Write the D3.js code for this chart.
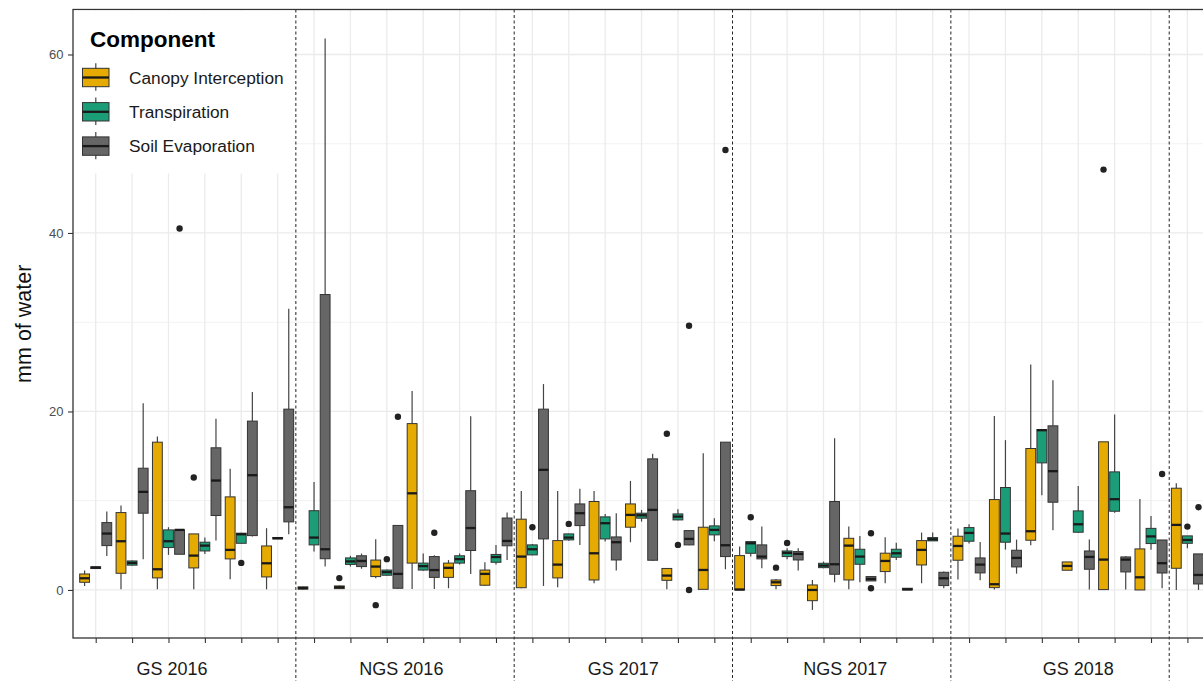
<!DOCTYPE html>
<html>
<head>
<meta charset="utf-8">
<script src="https://cdn.jsdelivr.net/npm/d3@7"></script>
<style>
  html, body { margin: 0; padding: 0; background: #fff; }
  svg { display: block; font-family: "Liberation Sans", Arial, Helvetica, sans-serif; }
</style>
</head>
<body>
<svg id="chart" width="1203" height="681"></svg>
<script>
// ---- data ---------------------------------------------------------------
const seasons = ["GS 2016", "NGS 2016", "GS 2017", "NGS 2017", "GS 2018"];
const monthCount = 31;               // six months per season, plus the first month of the next one
const components = ["Canopy Interception", "Transpiration", "Soil Evaporation"];
const componentColors = ["#E6AB02", "#1B9E77", "#666666"];

// box statistics per month: [lower whisker, Q1, median, Q3, upper whisker]  (mm)
const canopyStats = [
  [0.45, 0.86, 1.31, 1.79, 2.17], [0.07, 1.87, 5.46, 8.67, 9.46], [0.07, 1.35, 2.32, 16.56, 17.2],
  [0.07, 2.47, 3.85, 6.28, 6.28], [1.2, 3.48, 4.49, 10.43, 13.57], [0.07, 1.46, 2.99, 4.93, 6.92],
  [0.05, 0.1, 0.2, 0.35, 0.4], [0.1, 0.15, 0.3, 0.45, 0.5], [1.3, 1.5, 2.62, 3.35, 5.68],
  [0.1, 3.01, 10.83, 18.64, 22.28], [0.19, 1.41, 2.48, 3.01, 3.35], [0.44, 0.53, 1.8, 2.23, 3.1],
  [0.19, 0.25, 3.74, 7.93, 11.1], [0.3, 1.35, 2.84, 5.53, 11.1], [0.75, 1.12, 4.11, 9.91, 11.1],
  [5.35, 7.03, 8.41, 9.64, 12.22], [0.07, 1.08, 1.61, 2.41, 2.41], [0.07, 0.07, 2.24, 7.03, 15.33],
  [0, 0, 0.05, 3.85, 4.86], [0.07, 0.49, 0.86, 1.12, 1.23], [-2.24, -1.2, 0, 0.56, 1.12],
  [0.07, 1.12, 4.97, 5.79, 7.1], [0.75, 2.06, 3.25, 4.12, 5.9], [0.75, 2.8, 4.49, 5.53, 6.43],
  [1.16, 3.33, 4.93, 6.02, 6.88], [0.04, 0.26, 0.64, 10.13, 19.48], [5.01, 5.57, 6.58, 15.85, 25.27],
  [2.21, 2.21, 2.69, 3.14, 3.14], [0.04, 0.04, 3.4, 16.6, 16.6], [0, 0, 1.42, 4.6, 10.2],
  [0, 2.43, 7.29, 11.4, 11.97]
];
const transpirationStats = [
  [2.35, 2.4, 2.5, 2.6, 2.65], [2.7, 2.78, 3.03, 3.25, 3.3], [3.93, 4.75, 5.46, 6.73, 7.03],
  [4.04, 4.37, 4.97, 5.35, 5.87], [5.2, 5.23, 6.24, 6.36, 6.4], [5.7, 5.72, 5.8, 5.88, 5.9],
  [4.32, 5.05, 5.87, 8.88, 12.09], [2.62, 2.86, 3.2, 3.59, 3.83], [1.6, 1.65, 1.99, 2.23, 2.3],
  [2.14, 2.23, 2.67, 3.01, 4.08], [2.86, 3.01, 3.45, 3.83, 4.08], [2.86, 3.1, 3.69, 3.98, 5.05],
  [3.9, 3.93, 4.56, 5.05, 5.15], [5.5, 5.61, 5.87, 6.28, 6.3], [5.42, 5.72, 7.48, 8.19, 8.52],
  [7.66, 8.04, 8.37, 8.6, 8.97], [7.8, 7.85, 8.22, 8.52, 9.05], [5.46, 6.17, 6.73, 7.18, 8.04],
  [3.74, 4.11, 5.23, 5.42, 5.42], [3.44, 3.74, 4.15, 4.37, 4.67], [2.43, 2.5, 2.73, 2.99, 3.18],
  [0.86, 2.88, 3.74, 4.56, 6.06], [3.36, 3.67, 4.11, 4.56, 5.3], [5.5, 5.5, 5.68, 5.87, 6.43],
  [5.2, 5.46, 6.39, 6.99, 7.36], [4.52, 5.35, 6.32, 11.48, 16.79], [10.62, 14.24, 17.9, 17.98, 17.98],
  [6.39, 6.47, 7.36, 8.86, 11.66], [8.64, 8.82, 10.17, 13.23, 19.66], [4.5, 5.2, 6.0, 6.9, 8.3],
  [4.67, 5.23, 5.6, 6.06, 6.06]
];
const soilStats = [
  [3.81, 4.97, 6.32, 7.55, 8.79], [3.44, 8.6, 10.99, 13.64, 20.93], [4.0, 4.0, 6.73, 6.73, 6.73],
  [5.53, 8.34, 12.26, 15.93, 19.18], [5.98, 6.09, 12.86, 18.92, 22.17], [6.24, 7.63, 9.27, 20.26, 31.5],
  [2.62, 3.5, 4.56, 33.1, 61.8], [2.38, 2.62, 3.25, 3.83, 4.08], [0.1, 0.19, 1.8, 7.23, 7.23],
  [0.1, 1.41, 2.23, 3.74, 3.9], [1.8, 4.42, 6.94, 11.12, 19.47], [3.35, 4.95, 5.49, 8.06, 8.69],
  [0.45, 5.72, 13.46, 20.26, 23.07], [5.05, 7.21, 8.6, 9.64, 11.33], [2.17, 3.36, 5.35, 5.94, 8.6],
  [3.25, 3.33, 8.97, 14.69, 15.25], [5.0, 5.05, 5.72, 6.65, 6.7], [2.32, 3.74, 5.01, 16.56, 16.56],
  [2.43, 3.48, 3.74, 5.05, 7.1], [2.17, 3.36, 4.04, 4.3, 4.67], [0.86, 1.76, 2.88, 9.91, 17.0],
  [1.0, 1.01, 1.23, 1.5, 1.55], [0, 0, 0.07, 0.19, 0.19], [0.19, 0.49, 1.31, 1.98, 2.06],
  [1.08, 1.91, 2.84, 3.59, 5.38], [1.83, 2.58, 3.59, 4.45, 5.64], [6.69, 9.83, 13.31, 18.39, 23.51],
  [0.04, 2.32, 3.7, 4.37, 5.64], [0.04, 2.02, 3.4, 3.7, 3.78], [0.2, 1.9, 3.0, 5.6, 5.6],
  [0, 0.67, 1.68, 4.04, 4.04]
];

// outlying points: [month index, component index, value]
const outliers = [
  [2, 2, 40.5], [3, 0, 12.6], [4, 1, 3.03],
  [7, 0, 1.33], [8, 0, -1.7], [8, 1, 3.45], [8, 2, 19.4], [9, 2, 6.41],
  [12, 1, 7.03], [13, 1, 7.4], [16, 0, 17.5], [16, 1, 5.05], [16, 2, 29.6], [16, 2, 0], [17, 2, 49.3],
  [18, 1, 8.15], [19, 0, 2.5], [19, 1, 5.27], [21, 2, 6.36], [21, 2, 0.19],
  [28, 0, 47.1], [29, 2, 13.0], [30, 1, 7.1], [30, 2, 9.27]
];

const yTicks = [0, 20, 40, 60];
const yMinorTicks = [10, 30, 50];

// ---- layout -------------------------------------------------------------
const W = 1203, H = 681;
const panel = { left: 73, top: 9.5, right: 1240, bottom: 638 };
const seasonLabelAt = [2.1, 8.4, 14.5, 20.6, 27.0];   // label centres, in month units
const monthsPerSeason = 6;

const svg = d3.select("#chart");

const x = d3.scaleLinear().domain([0, 30]).range([95.7, 95.7 + 30 * 36.39]);
const step = x(1) - x(0);
const dodge = 0.305 * step;
const boxW = 0.27 * step;
const y = d3.scaleLinear().domain([-5.383, 65.04]).range([panel.bottom, panel.top]);

// panel background
svg.append("rect")
  .attr("x", panel.left).attr("y", panel.top)
  .attr("width", panel.right - panel.left).attr("height", panel.bottom - panel.top)
  .attr("fill", "#fff");

const grid = svg.append("g");
grid.selectAll("line.minor").data(yMinorTicks).join("line")
  .attr("class", "minor")
  .attr("x1", panel.left).attr("x2", panel.right)
  .attr("y1", d => y(d)).attr("y2", d => y(d))
  .attr("stroke", "#F2F2F2").attr("stroke-width", 1);
grid.selectAll("line.majorY").data(yTicks).join("line")
  .attr("class", "majorY")
  .attr("x1", panel.left).attr("x2", panel.right)
  .attr("y1", d => y(d)).attr("y2", d => y(d))
  .attr("stroke", "#EBEBEB").attr("stroke-width", 1.3);
grid.selectAll("line.majorX").data(d3.range(monthCount)).join("line")
  .attr("class", "majorX")
  .attr("x1", d => x(d)).attr("x2", d => x(d))
  .attr("y1", panel.top).attr("y2", panel.bottom)
  .attr("stroke", "#EBEBEB").attr("stroke-width", 1.3);

// dashed separators between seasons
const separators = d3.range(1, Math.ceil(monthCount / monthsPerSeason)).map(s => s * monthsPerSeason - 0.5);
svg.append("g").selectAll("line").data(separators).join("line")
  .attr("x1", d => x(d)).attr("x2", d => x(d))
  .attr("y1", panel.top).attr("y2", H)
  .attr("stroke", "#222").attr("stroke-width", 1)
  .attr("stroke-dasharray", "3,2.5");

// boxes
const statsByComponent = [canopyStats, transpirationStats, soilStats];
const boxes = [];
statsByComponent.forEach((arr, c) => arr.forEach((s, m) => boxes.push({
  m, c, lo: s[0], q1: s[1], med: s[2], q3: s[3], hi: s[4]
})));
const cx = d => x(d.m) + (d.c - 1) * dodge;

const gBox = svg.append("g");
const bg = gBox.selectAll("g").data(boxes).join("g");
bg.append("line")
  .attr("x1", cx).attr("x2", cx)
  .attr("y1", d => y(d.hi)).attr("y2", d => y(d.q3))
  .attr("stroke", "#444").attr("stroke-width", 1.2);
bg.append("line")
  .attr("x1", cx).attr("x2", cx)
  .attr("y1", d => y(d.q1)).attr("y2", d => y(d.lo))
  .attr("stroke", "#444").attr("stroke-width", 1.2);
bg.append("rect")
  .attr("x", d => cx(d) - boxW / 2)
  .attr("y", d => y(d.q3))
  .attr("width", boxW)
  .attr("height", d => Math.max(1, y(d.q1) - y(d.q3)))
  .attr("fill", d => componentColors[d.c])
  .attr("stroke", "#333").attr("stroke-width", 1);
bg.append("line")
  .attr("x1", d => cx(d) - boxW / 2).attr("x2", d => cx(d) + boxW / 2)
  .attr("y1", d => y(d.med)).attr("y2", d => y(d.med))
  .attr("stroke", "#1a1a1a").attr("stroke-width", 2.3);

// outlying points
svg.append("g").selectAll("circle").data(outliers).join("circle")
  .attr("cx", d => x(d[0]) + (d[1] - 1) * dodge)
  .attr("cy", d => y(d[2]))
  .attr("r", 3.2)
  .attr("fill", "#222");

// panel border
svg.append("rect")
  .attr("x", panel.left).attr("y", panel.top)
  .attr("width", panel.right - panel.left).attr("height", panel.bottom - panel.top)
  .attr("fill", "none").attr("stroke", "#333").attr("stroke-width", 1.3);

// axes
const xAxis = d3.axisBottom(x).tickValues(d3.range(monthCount)).tickFormat("").tickSize(5).tickSizeOuter(0);
svg.append("g").attr("transform", `translate(0,${panel.bottom})`).call(xAxis)
  .call(g => g.select(".domain").remove())
  .call(g => g.selectAll("line").attr("stroke", "#333").attr("stroke-width", 1.1));

const yAxis = d3.axisLeft(y).tickValues(yTicks).tickSize(5).tickPadding(4.5).tickSizeOuter(0);
svg.append("g").attr("transform", `translate(${panel.left},0)`).call(yAxis)
  .call(g => g.select(".domain").remove())
  .call(g => g.selectAll("line").attr("stroke", "#333").attr("stroke-width", 1.1))
  .call(g => g.selectAll("text").attr("fill", "#4D4D4D").attr("font-size", 13)
    .attr("font-family", "Liberation Sans, Arial, sans-serif"));

// season labels
svg.append("g").selectAll("text").data(seasons).join("text")
  .attr("x", (d, i) => x(seasonLabelAt[i]))
  .attr("y", 675)
  .attr("text-anchor", "middle")
  .attr("font-size", 18)
  .attr("fill", "#1a1a1a")
  .text(d => d);

// y axis title
svg.append("text")
  .attr("transform", `translate(31,${(panel.top + panel.bottom) / 2}) rotate(-90)`)
  .attr("text-anchor", "middle")
  .attr("font-size", 21.5)
  .attr("fill", "#111")
  .text("mm of water");

// legend
const legend = svg.append("g");
legend.append("rect")
  .attr("x", panel.left + 1).attr("y", panel.top + 1)
  .attr("width", 220).attr("height", 163)
  .attr("fill", "#fff");
legend.append("text")
  .attr("x", 90).attr("y", 47)
  .attr("font-size", 22.5).attr("font-weight", "bold").attr("fill", "#000")
  .text("Component");
const key = legend.selectAll("g.key").data(components).join("g")
  .attr("class", "key")
  .attr("transform", (d, i) => `translate(0,${i * 34.3})`);
key.append("line")
  .attr("x1", 95.8).attr("x2", 95.8).attr("y1", 63.3).attr("y2", 90.7)
  .attr("stroke", "#444").attr("stroke-width", 1.2);
key.append("rect")
  .attr("x", 82.5).attr("y", 68.3).attr("width", 26.5).attr("height", 18.4)
  .attr("fill", (d, i) => componentColors[i])
  .attr("stroke", "#333").attr("stroke-width", 1);
key.append("line")
  .attr("x1", 82.5).attr("x2", 109).attr("y1", 77.5).attr("y2", 77.5)
  .attr("stroke", "#1a1a1a").attr("stroke-width", 2.3);
key.append("text")
  .attr("x", 129).attr("y", 83.5)
  .attr("font-size", 17.3).attr("fill", "#1a1a1a")
  .text(d => d);
</script>
</body>
</html>
